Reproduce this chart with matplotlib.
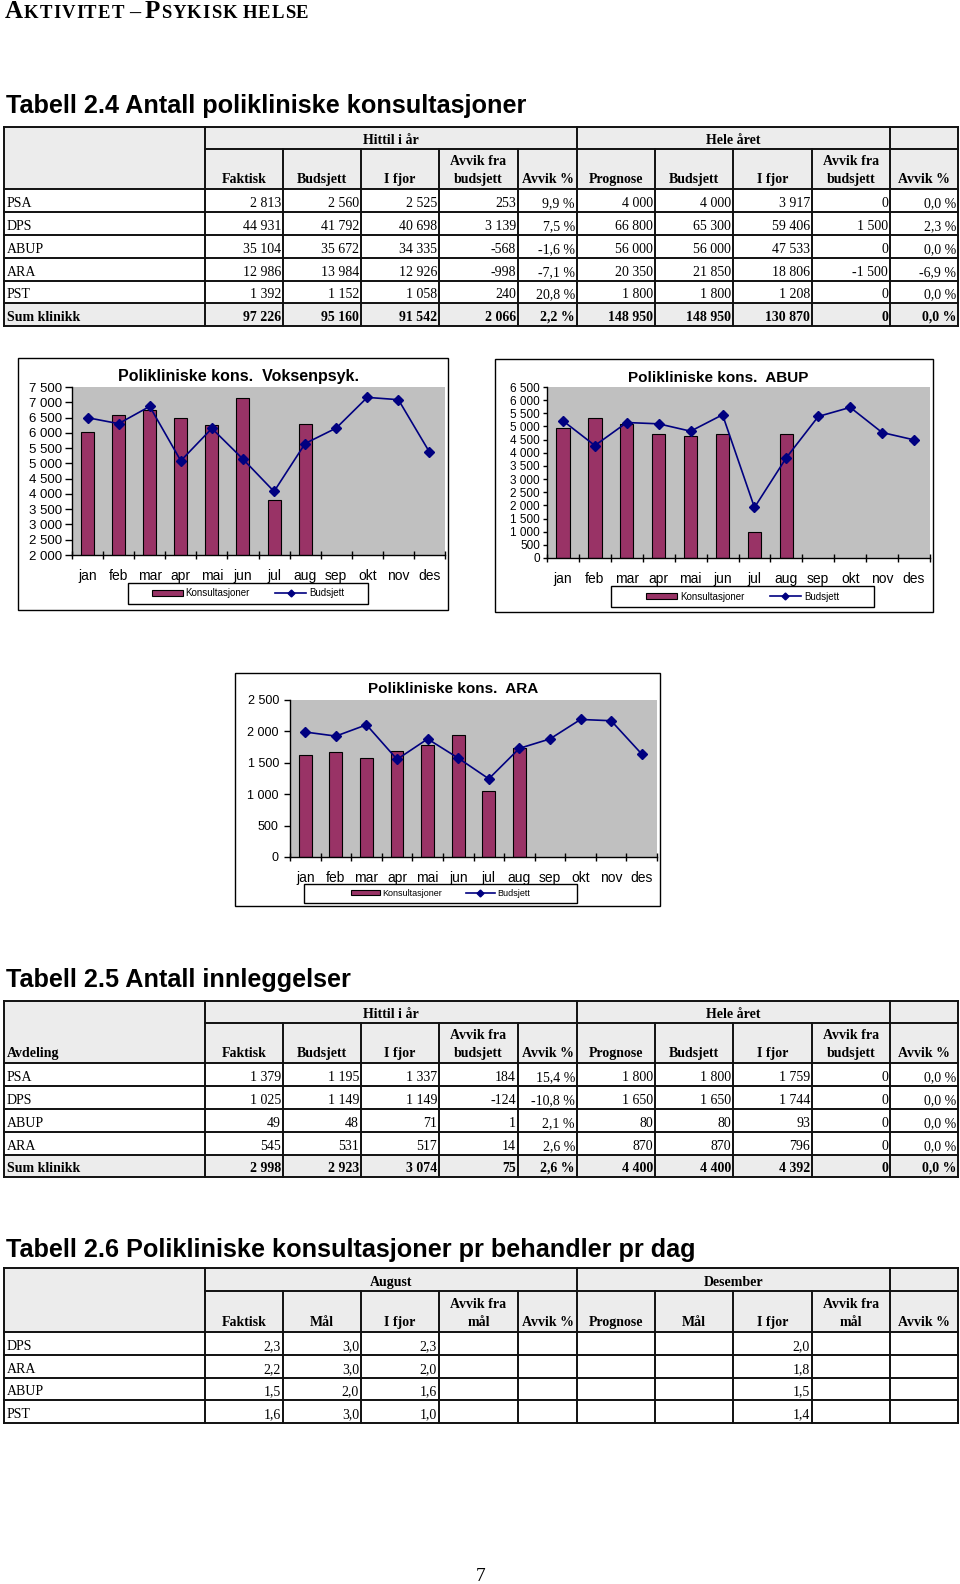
import matplotlib
matplotlib.use("Agg")
import matplotlib.pyplot as plt
from matplotlib.patches import Rectangle, Patch
from matplotlib.lines import Line2D
from matplotlib.ticker import FuncFormatter
import numpy as np

W, H = 960, 1584
SANS = "Liberation Sans"
SERIF = "Liberation Serif"
GRAY = "#ececec"
BAR = "#993366"
NAVY = "#000080"

months = ["jan", "feb", "mar", "apr", "mai", "jun", "jul", "aug", "sep", "okt", "nov", "des"]

# diagram-data lest av bildet (jan-aug faktisk, hele året budsjett)
voksen_kons = [6020, 6590, 6745, 6480, 6265, 7130, 3800, 6300]
voksen_budsjett = [6495, 6300, 6865, 5085, 6145, 5140, 4080, 5650, 6155, 7160, 7085, 5370]
abup_kons = [4960, 5320, 5090, 4730, 4640, 4730, 990, 4730]
abup_budsjett = [5215, 4275, 5150, 5100, 4820, 5445, 1920, 3815, 5380, 5725, 4770, 4490]
ara_kons = [1625, 1665, 1575, 1680, 1780, 1940, 1055, 1730]
ara_budsjett = [1990, 1925, 2105, 1555, 1880, 1575, 1245, 1730, 1880, 2190, 2170, 1640]

# Tabell 2.4
t24_enhet = ["PSA", "DPS", "ABUP", "ARA", "PST", "Sum klinikk"]
t24_faktisk = [2813, 44931, 35104, 12986, 1392, 97226]
t24_budsjett = [2560, 41792, 35672, 13984, 1152, 95160]
t24_ifjor = [2525, 40698, 34335, 12926, 1058, 91542]
t24_avvik = [253, 3139, -568, -998, 240, 2066]
t24_avvik_pst = [9.9, 7.5, -1.6, -7.1, 20.8, 2.2]
t24_prognose = [4000, 66800, 56000, 20350, 1800, 148950]
t24_budsjett_aar = [4000, 65300, 56000, 21850, 1800, 148950]
t24_ifjor_aar = [3917, 59406, 47533, 18806, 1208, 130870]
t24_avvik_aar = [0, 1500, 0, -1500, 0, 0]
t24_avvik_pst_aar = [0.0, 2.3, 0.0, -6.9, 0.0, 0.0]

# Tabell 2.5
t25_enhet = ["PSA", "DPS", "ABUP", "ARA", "Sum klinikk"]
t25_faktisk = [1379, 1025, 49, 545, 2998]
t25_budsjett = [1195, 1149, 48, 531, 2923]
t25_ifjor = [1337, 1149, 71, 517, 3074]
t25_avvik = [184, -124, 1, 14, 75]
t25_avvik_pst = [15.4, -10.8, 2.1, 2.6, 2.6]
t25_prognose = [1800, 1650, 80, 870, 4400]
t25_budsjett_aar = [1800, 1650, 80, 870, 4400]
t25_ifjor_aar = [1759, 1744, 93, 796, 4392]
t25_avvik_aar = [0, 0, 0, 0, 0]
t25_avvik_pst_aar = [0.0, 0.0, 0.0, 0.0, 0.0]

# Tabell 2.6
t26_enhet = ["DPS", "ARA", "ABUP", "PST"]
t26_faktisk = [2.3, 2.2, 1.5, 1.6]
t26_maal = [3.0, 3.0, 2.0, 3.0]
t26_ifjor = [2.3, 2.0, 1.6, 1.0]
t26_ifjor_des = [2.0, 1.8, 1.5, 1.4]

col_x = [4, 205, 283, 361, 439, 518, 577, 655, 733, 812, 890, 958]


def fi(v):
    return f"{v:,}".replace(",", " ")


def fp(v):
    return f"{v:.1f} %".replace(".", ",")


def fd(v):
    return "" if v is None else f"{v:.1f}".replace(".", ",")


fig = plt.figure(figsize=(W / 100, H / 100), dpi=100)
page = fig.add_axes([0, 0, 1, 1])
page.set_xlim(0, W)
page.set_ylim(H, 0)
page.axis("off")
renderer = fig.canvas.get_renderer()


def px_rect(x0, y0, x1, y1):
    return [x0 / W, 1 - y1 / H, (x1 - x0) / W, (y1 - y0) / H]


def seq_text(x, y, parts, track=0.0, **kw):
    # tegner tekst bit for bit (kapitéler i overskriften)
    for s, size in parts:
        if s == " ":
            x += size
            continue
        for ch in s:
            t = page.text(x, y, ch, fontsize=size, va="baseline", **kw)
            x += t.get_window_extent(renderer).width + track


def hline(x0, x1, y):
    page.plot([x0, x1], [y, y], color="#111111", lw=1.4, solid_capstyle="projecting", zorder=3)


def vline(x, y0, y1):
    page.plot([x, x], [y0, y1], color="#111111", lw=1.4, solid_capstyle="projecting", zorder=3)


def table(top, h1, h2, row_bottoms, groups, headers, rows, first_header=""):
    xl, xr = col_x[0], col_x[-1]
    bottom = row_bottoms[-1]
    has_sum = rows[-1][0].startswith("Sum")
    page.add_patch(Rectangle((xl, top), xr - xl, h2 - top, facecolor=GRAY, edgecolor="none", zorder=1))
    if has_sum:
        page.add_patch(Rectangle((xl, row_bottoms[-2]), xr - xl, bottom - row_bottoms[-2],
                                 facecolor=GRAY, edgecolor="none", zorder=1))
    hline(xl, xr, top)
    hline(col_x[1], xr, h1)
    hline(xl, xr, h2)
    for rb in row_bottoms:
        hline(xl, xr, rb)
    group_x = {col_x[g[1]] for g in groups} | {col_x[g[2]] for g in groups}
    for i, x in enumerate(col_x):
        if i in (0, 1, len(col_x) - 1) or x in group_x:
            vline(x, top, bottom)
        else:
            vline(x, h1, bottom)
    hd = dict(family=SERIF, fontsize=10, fontweight="bold", va="baseline", zorder=4)
    for label, i0, i1 in groups:
        page.text((col_x[i0] + col_x[i1]) / 2, h1 - 5, label, ha="center", **hd)
    if first_header:
        page.text(7, h2 - 6, first_header, ha="left", **hd)
    for j, head in enumerate(headers):
        lines = head.split("\n")
        cx = (col_x[j + 1] + col_x[j + 2]) / 2
        for k, ln in enumerate(reversed(lines)):
            page.text(cx, h2 - 6 - 18 * k, ln, ha="center", **hd)
    for r, (row, rb) in enumerate(zip(rows, row_bottoms)):
        bold = has_sum and r == len(rows) - 1
        kw = dict(family=SERIF, fontsize=10, va="baseline", zorder=4,
                  fontweight="bold" if bold else "normal")
        page.text(7, rb - 5, row[0], ha="left", **kw)
        for j, val in enumerate(row[1:]):
            page.text(col_x[j + 2] - 2, rb - 5, val, ha="right", **kw)


def chart(frame, plot, ylim, ystep, kons, budsjett, title, title_xy, leg_box,
          ytick_fs=9, ytick_len=3, ytick_pad=2, leg_fs=7, title_fs=11):
    x0, y0, x1, y1 = frame
    page.add_patch(Rectangle((x0, y0), x1 - x0, y1 - y0, facecolor="white",
                             edgecolor="black", lw=1.0, zorder=1))
    ax = fig.add_axes(px_rect(*plot))
    ax.set_facecolor("#c0c0c0")
    ax.bar(np.arange(len(kons)), kons, width=0.42, color=BAR, edgecolor="black",
           linewidth=0.8, zorder=2)
    ax.plot(np.arange(len(budsjett)), budsjett, color=NAVY, lw=1.2, marker="D", ms=5, zorder=3)
    ax.set_xlim(-0.5, 11.5)
    ax.set_ylim(*ylim)
    ax.set_yticks(np.arange(ylim[0], ylim[1] + 1, ystep))
    ax.yaxis.set_major_formatter(FuncFormatter(lambda v, p: fi(int(v))))
    ax.tick_params(axis="y", direction="out", length=ytick_len, width=1, pad=ytick_pad,
                   labelsize=ytick_fs)
    ax.set_xticks(np.arange(-0.5, 12, 1))
    ax.set_xticklabels([])
    ax.set_xticks(np.arange(12), minor=True)
    ax.set_xticklabels(months, minor=True)
    ax.tick_params(axis="x", which="major", direction="inout", length=6, width=1)
    ax.tick_params(axis="x", which="minor", length=0, pad=10, labelsize=10)
    for lab in ax.get_xticklabels(minor=True) + ax.get_yticklabels():
        lab.set_family(SANS)
    for s in ("top", "right"):
        ax.spines[s].set_visible(False)
    for s in ("left", "bottom"):
        ax.spines[s].set_linewidth(1.0)
    page.text(title_xy[0], title_xy[1], title, ha="center", va="center", family=SANS,
              fontsize=title_fs, fontweight="bold", zorder=4)
    lx0, ly0, lx1, ly1 = leg_box
    page.add_patch(Rectangle((lx0, ly0), lx1 - lx0, ly1 - ly0, facecolor="white",
                             edgecolor="black", lw=1.0, zorder=2))
    handles = [Patch(facecolor=BAR, edgecolor="black", linewidth=0.8),
               Line2D([], [], color=NAVY, lw=1.2, marker="D", ms=3.5)]
    fig.legend(handles, ["Konsultasjoner", "Budsjett"], loc="center",
               bbox_to_anchor=((lx0 + lx1) / 2 / W, 1 - (ly0 + ly1) / 2 / H),
               ncol=2, frameon=False, prop={"family": SANS, "size": leg_fs},
               handlelength=3.2, handleheight=0.5, handletextpad=0.3, columnspacing=2.6,
               borderpad=0.2)
    return ax


# sideoverskrift
seq_text(5, 18.5, [("A", 18), ("KTIVITET", 13.5), (" ", 4), ("–", 16), (" ", 4),
                   ("P", 18), ("SYKISK", 13.5), (" ", 4.5), ("HELSE", 13.5)],
         track=1.0, family=SERIF, fontweight="bold")

for y, txt in [(113, "Tabell 2.4 Antall polikliniske konsultasjoner"),
               (987, "Tabell 2.5 Antall innleggelser"),
               (1257, "Tabell 2.6 Polikliniske konsultasjoner pr behandler pr dag")]:
    page.text(6, y, txt, family=SANS, fontsize=18.2, fontweight="bold", va="baseline")

heads_budsjett = ["Faktisk", "Budsjett", "I fjor", "Avvik fra\nbudsjett", "Avvik %",
                  "Prognose", "Budsjett", "I fjor", "Avvik fra\nbudsjett", "Avvik %"]
heads_maal = ["Faktisk", "Mål", "I fjor", "Avvik fra\nmål", "Avvik %",
              "Prognose", "Mål", "I fjor", "Avvik fra\nmål", "Avvik %"]

rows24 = [[e, fi(a), fi(b), fi(c), fi(d), fp(p), fi(f), fi(g), fi(h), fi(k), fp(q)]
          for e, a, b, c, d, p, f, g, h, k, q in zip(
              t24_enhet, t24_faktisk, t24_budsjett, t24_ifjor, t24_avvik, t24_avvik_pst,
              t24_prognose, t24_budsjett_aar, t24_ifjor_aar, t24_avvik_aar, t24_avvik_pst_aar)]
table(127, 149, 189, [212, 235, 258, 281, 303, 326],
      [("Hittil i år", 1, 6), ("Hele året", 6, 10)], heads_budsjett, rows24)

rows25 = [[e, fi(a), fi(b), fi(c), fi(d), fp(p), fi(f), fi(g), fi(h), fi(k), fp(q)]
          for e, a, b, c, d, p, f, g, h, k, q in zip(
              t25_enhet, t25_faktisk, t25_budsjett, t25_ifjor, t25_avvik, t25_avvik_pst,
              t25_prognose, t25_budsjett_aar, t25_ifjor_aar, t25_avvik_aar, t25_avvik_pst_aar)]
table(1001, 1023, 1063, [1086, 1109, 1132, 1155, 1177],
      [("Hittil i år", 1, 6), ("Hele året", 6, 10)], heads_budsjett, rows25,
      first_header="Avdeling")

rows26 = [[e, fd(a), fd(b), fd(c), "", "", "", "", fd(d), "", ""]
          for e, a, b, c, d in zip(t26_enhet, t26_faktisk, t26_maal, t26_ifjor, t26_ifjor_des)]
table(1268, 1291, 1332, [1355, 1378, 1400, 1423],
      [("August", 1, 6), ("Desember", 6, 10)], heads_maal, rows26)

chart((18, 358, 448, 610), (72, 387, 445, 555), (2000, 7500), 500,
      voksen_kons, voksen_budsjett, "Polikliniske kons.  Voksenpsyk.", (239, 376),
      (128, 583, 368, 604), ytick_fs=9.5, ytick_len=5, ytick_pad=2, title_fs=11.5)
chart((495, 359, 933, 612), (547, 387, 930, 558), (0, 6500), 500,
      abup_kons, abup_budsjett, "Polikliniske kons.  ABUP", (718, 378),
      (611, 586, 874, 607), ytick_fs=8.5)
chart((235, 673, 660, 906), (290, 700, 657, 857), (0, 2500), 500,
      ara_kons, ara_budsjett, "Polikliniske kons.  ARA", (453, 689),
      (304, 884, 577, 903), ytick_fs=9, ytick_len=4, ytick_pad=4, leg_fs=6.5)

page.text(481, 1581, "7", family=SERIF, fontsize=14, ha="center", va="baseline")

fig.savefig("out.png", dpi=100)
